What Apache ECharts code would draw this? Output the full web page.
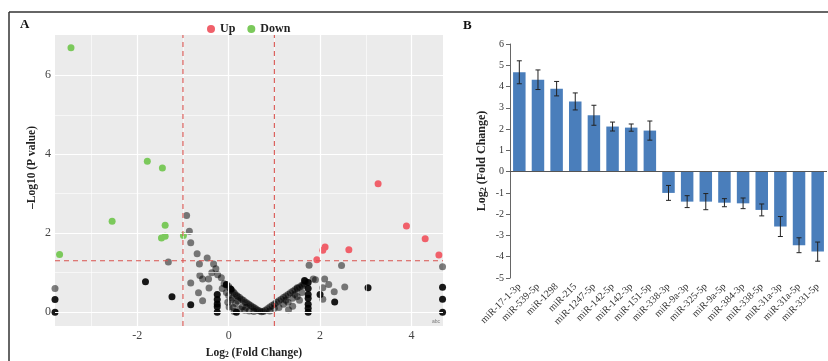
<!DOCTYPE html>
<html>
<head>
<meta charset="utf-8">
<script src="https://cdn.jsdelivr.net/npm/echarts@6/dist/echarts.min.js"></script>
<style>
  html, body { margin: 0; padding: 0; background: #fff; }
  #chart { width: 828px; height: 361px; }
</style>
</head>
<body>
<div id="chart"></div>
<script>
// ---- panel A : volcano plot ----
const upPoints = [[3.27, 3.25], [3.89, 2.18], [4.30, 1.86], [4.60, 1.45], [2.63, 1.58], [2.11, 1.65], [2.06, 1.57], [1.93, 1.33]];
const downPoints = [[-3.45, 6.70], [-1.78, 3.82], [-1.45, 3.65], [-2.55, 2.30], [-1.39, 2.20], [-1.47, 1.88], [-1.39, 1.92], [-0.99, 1.94], [-3.70, 1.46]];
// not significant, semi-transparent
const nsPoints = [
  [-0.92, 2.45], [-0.86, 2.05], [-0.83, 1.76], [-0.69, 1.48], [-0.47, 1.37], [-0.33, 1.22], [-1.32, 1.27], [-0.64, 1.22],
  [-0.28, 1.10], [-0.37, 1.00], [-0.24, 0.95], [-0.63, 0.93], [-0.57, 0.84], [-0.44, 0.84], [-0.16, 0.87], [-0.83, 0.74],
  [-0.43, 0.61], [-0.66, 0.49], [-0.57, 0.29], [-0.14, 0.60], [-3.80, 0.60], [4.68, 1.15],
  [-0.10, 0.72], [-0.05, 0.68], [0.00, 0.65], [0.03, 0.60], [0.06, 0.55], [0.10, 0.52], [0.13, 0.47], [0.17, 0.43],
  [0.20, 0.40], [0.24, 0.37], [0.28, 0.33], [0.32, 0.30], [0.36, 0.26], [0.40, 0.23], [0.44, 0.20], [0.48, 0.17],
  [0.52, 0.14], [0.56, 0.11], [0.60, 0.08], [0.64, 0.05], [0.68, 0.03], [0.72, 0.01], [0.05, 0.30], [0.10, 0.12],
  [0.15, 0.22], [0.25, 0.08], [0.30, 0.14], [0.35, 0.05], [0.45, 0.03], [0.55, 0.02], [0.00, 0.42], [-0.05, 0.50],
  [0.08, 0.36], [0.01, 0.13], [0.20, 0.28], [0.38, 0.12], [-0.02, 0.25], [0.12, 0.02],
  [0.76, 0.02], [0.80, 0.05], [0.85, 0.09], [0.90, 0.13], [0.95, 0.17], [1.00, 0.21], [1.05, 0.25], [1.10, 0.29],
  [1.15, 0.33], [1.20, 0.37], [1.25, 0.41], [1.30, 0.45], [1.35, 0.49], [1.40, 0.53], [1.45, 0.57], [1.50, 0.60],
  [1.55, 0.64], [1.60, 0.68], [1.65, 0.72], [1.68, 0.78], [1.00, 0.10], [1.20, 0.20], [1.30, 0.25], [1.40, 0.35],
  [1.50, 0.40], [1.55, 0.30], [1.60, 0.50], [1.45, 0.45], [1.31, 0.06], [1.10, 0.12], [0.90, 0.03], [1.50, 0.62],
  [1.62, 0.66], [1.40, 0.15], [1.25, 0.30],
  [1.76, 1.19], [1.85, 0.84], [1.90, 0.82], [2.06, 0.33], [2.06, 0.62], [2.10, 0.84], [2.19, 0.70], [2.31, 0.52],
  [2.47, 1.18], [2.54, 0.64]
];
// overlapping points that read as solid black
const nsSolid = [
  [-1.82, 0.77], [-1.24, 0.39], [-0.83, 0.19], [2.00, 0.45], [2.32, 0.26], [3.05, 0.62],
  [-3.80, 0.32], [-3.80, 0.00], [4.68, 0.63], [4.68, 0.33], [4.68, 0.00],
  [-0.25, 0.00], [-0.25, 0.14], [-0.25, 0.21], [-0.25, 0.32], [-0.25, 0.45], [0.17, 0.00],
  [1.74, 0.00], [1.74, 0.10], [1.74, 0.20], [1.74, 0.35], [1.74, 0.45], [1.74, 0.60], [1.74, 0.75],
  [-0.05, 0.70], [0.05, 0.58], [1.66, 0.80]
];
const volcanoXRange = [-3.8, 4.69];
const volcanoYRange = [-0.35, 7.02];
const volcanoXTicks = [-2, 0, 2, 4];
const volcanoYTicks = [0, 2, 4, 6];
const volcanoXMinor = [-3, -1, 1, 3];
const volcanoYMinor = [1, 3, 5];
const fcCut = [-1, 1];
const pCut = 1.301;

// ---- panel B : bar chart ----
const mirNames = ['miR-17-1-3p', 'miR-539-5p', 'miR-1298', 'miR-215', 'miR-1247-5p', 'miR-142-5p', 'miR-142-3p', 'miR-151-5p',
  'miR-338-3p', 'miR-9a-3p', 'miR-325-5p', 'miR-9a-5p', 'miR-384-3p', 'miR-338-5p', 'miR-31a-3p', 'miR-31a-5p', 'miR-331-5p'];
const foldValues = [4.67, 4.32, 3.90, 3.30, 2.65, 2.12, 2.07, 1.93, -1.00, -1.41, -1.41, -1.46, -1.49, -1.80, -2.58, -3.46, -3.76];
const foldErrors = [0.54, 0.46, 0.34, 0.40, 0.47, 0.21, 0.17, 0.45, 0.35, 0.28, 0.38, 0.19, 0.25, 0.28, 0.47, 0.35, 0.45];

const serif = 'Liberation Serif';
const gridLine = (arr, key, w) => arr.map(v => ({ [key]: v, lineStyle: { color: '#fff', type: 'solid', width: w } }));

// dashed threshold line as a plain two-point line series
function cutLine(points) {
  return {
    type: 'line', xAxisIndex: 0, yAxisIndex: 0, z: 5, silent: true,
    data: points, symbol: 'none', showSymbol: false,
    lineStyle: { color: '#d9534f', type: [5, 4], width: 1.1 },
    emphasis: { disabled: true }
  };
}

const chart = echarts.init(document.getElementById('chart'));
const option = {
  animation: false,
  backgroundColor: '#fff',
  textStyle: { fontFamily: serif },
  graphic: [
    { type: 'line', shape: { x1: 9, y1: 12, x2: 828, y2: 12 }, style: { stroke: '#333', lineWidth: 1.5 } },
    { type: 'line', shape: { x1: 9, y1: 12, x2: 9, y2: 361 }, style: { stroke: '#333', lineWidth: 1.5 } },
    { type: 'text', left: 20, top: 18, style: { text: 'A', font: 'bold 13px "Liberation Serif"', fill: '#111' } },
    { type: 'text', left: 463, top: 19, style: { text: 'B', font: 'bold 13px "Liberation Serif"', fill: '#111' } },
    { type: 'text', left: 432, top: 319, style: { text: 'abc', font: '5px "Liberation Sans"', fill: '#777' } }
  ],
  legend: {
    data: ['Up', 'Down'],
    left: 202, top: 18,
    icon: 'circle', itemWidth: 8, itemHeight: 8, itemGap: 12,
    textStyle: { fontFamily: serif, fontWeight: 'bold', fontSize: 12, color: '#222' }
  },
  grid: [
    { left: 55, right: 385, top: 35, bottom: 35, show: true, backgroundColor: '#ebebeb', borderWidth: 0, outerBoundsMode: 'none' },
    { left: 510, right: 1, top: 44, bottom: 83, outerBoundsMode: 'none' }
  ],
  xAxis: [
    {
      gridIndex: 0, type: 'value', min: volcanoXRange[0], max: volcanoXRange[1],
      splitLine: { show: false }, axisLine: { show: false },
      axisTick: { show: true, length: 3, customValues: volcanoXTicks, lineStyle: { color: '#444' } },
      axisLabel: { customValues: volcanoXTicks, fontFamily: serif, fontSize: 12, color: '#444', margin: 4 },
      name: 'Log{s|2} (Fold Change)', nameLocation: 'middle', nameGap: 18,
      nameTextStyle: { fontFamily: serif, fontWeight: 'bold', fontSize: 11.5, color: '#222', padding: [0, 0, 0, 10],
        rich: { s: { fontFamily: serif, fontWeight: 'bold', fontSize: 7.5, verticalAlign: 'bottom', padding: [5, 0, 0, 0] } } }
    },
    {
      gridIndex: 1, type: 'category', data: mirNames,
      axisLine: { show: false, onZero: false }, axisTick: { show: false },
      axisLabel: { rotate: 45, interval: 0, fontFamily: serif, fontSize: 10, color: '#333', margin: 7 }
    }
  ],
  yAxis: [
    {
      gridIndex: 0, type: 'value', min: volcanoYRange[0], max: volcanoYRange[1],
      splitLine: { show: false }, axisLine: { show: false },
      axisTick: { show: true, length: 3, customValues: volcanoYTicks, lineStyle: { color: '#444' } },
      axisLabel: { customValues: volcanoYTicks, fontFamily: serif, fontSize: 12, color: '#444', margin: 4 },
      name: '\u2013Log10 (P value)', nameLocation: 'middle', nameGap: 17,
      nameTextStyle: { fontFamily: serif, fontWeight: 'bold', fontSize: 11.5, color: '#222', padding: [0, 0, 0, 26] }
    },
    {
      gridIndex: 1, type: 'value', min: -5, max: 6, interval: 1,
      splitLine: { show: false },
      axisLine: { show: true, lineStyle: { color: '#666', width: 1 } },
      axisTick: { show: true, length: 4, lineStyle: { color: '#666' } },
      axisLabel: { fontFamily: serif, fontSize: 10, color: '#333', margin: 6 },
      name: 'Log{s|2} (Fold Change)', nameLocation: 'middle', nameGap: 22,
      nameTextStyle: { fontFamily: serif, fontWeight: 'bold', fontSize: 12, color: '#222',
        rich: { s: { fontFamily: serif, fontWeight: 'bold', fontSize: 8, verticalAlign: 'bottom', padding: [5, 0, 0, 0] } } }
    }
  ],
  series: [
    {
      // white panel grid lines
      type: 'line', xAxisIndex: 0, yAxisIndex: 0, data: [], z: 1, silent: true,
      markLine: {
        silent: true, symbol: 'none', label: { show: false },
        lineStyle: { color: '#fff', type: 'solid' },
        data: [].concat(
          gridLine(volcanoXTicks, 'xAxis', 1.2), gridLine(volcanoXMinor, 'xAxis', 0.6),
          gridLine(volcanoYTicks, 'yAxis', 1.2), gridLine(volcanoYMinor, 'yAxis', 0.6))
      }
    },
    cutLine([[fcCut[0], volcanoYRange[0]], [fcCut[0], volcanoYRange[1]]]),
    cutLine([[fcCut[1], volcanoYRange[0]], [fcCut[1], volcanoYRange[1]]]),
    cutLine([[volcanoXRange[0], pCut], [volcanoXRange[1], pCut]]),
    {
      name: 'nsSolid', type: 'scatter', xAxisIndex: 0, yAxisIndex: 0, data: nsSolid, z: 3,
      symbolSize: 7, itemStyle: { color: '#000', opacity: 0.9 }
    },
    {
      name: 'ns', type: 'scatter', xAxisIndex: 0, yAxisIndex: 0, data: nsPoints, z: 3,
      symbolSize: 7, itemStyle: { color: '#000', opacity: 0.5 }
    },
    {
      name: 'Up', type: 'scatter', xAxisIndex: 0, yAxisIndex: 0, data: upPoints, z: 4,
      symbolSize: 7, itemStyle: { color: '#f0606a', opacity: 1 }
    },
    {
      name: 'Down', type: 'scatter', xAxisIndex: 0, yAxisIndex: 0, data: downPoints, z: 4,
      symbolSize: 7, itemStyle: { color: '#7bc95b', opacity: 1 }
    },
    {
      name: 'fold', type: 'bar', xAxisIndex: 1, yAxisIndex: 1, data: foldValues,
      barWidth: '67%', itemStyle: { color: '#4a7ebb' },
      markLine: {
        silent: true, symbol: 'none', label: { show: false },
        lineStyle: { color: '#555', type: 'solid', width: 1 },
        data: [{ yAxis: 0 }]
      }
    },
    {
      name: 'err', type: 'custom', xAxisIndex: 1, yAxisIndex: 1, z: 5,
      data: foldValues.map((v, i) => [i, v - foldErrors[i], v + foldErrors[i]]),
      renderItem: function (params, api) {
        const lo = api.coord([api.value(0), api.value(1)]);
        const hi = api.coord([api.value(0), api.value(2)]);
        const w = 2.5;
        const st = { stroke: '#222', lineWidth: 1 };
        return {
          type: 'group',
          children: [
            { type: 'line', shape: { x1: lo[0], y1: lo[1], x2: hi[0], y2: hi[1] }, style: st },
            { type: 'line', shape: { x1: lo[0] - w, y1: lo[1], x2: lo[0] + w, y2: lo[1] }, style: st },
            { type: 'line', shape: { x1: hi[0] - w, y1: hi[1], x2: hi[0] + w, y2: hi[1] }, style: st }
          ]
        };
      }
    }
  ]
};
chart.setOption(option);
</script>
</body>
</html>
